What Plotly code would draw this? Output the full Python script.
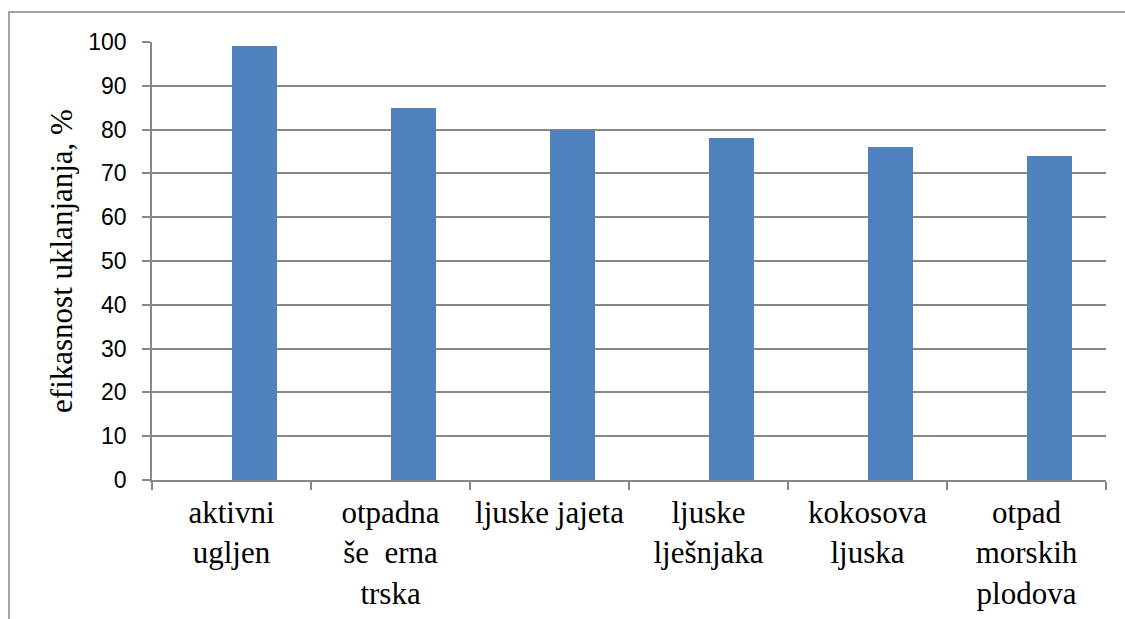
import plotly.graph_objects as go

categories = ["aktivni<br>ugljen", "otpadna<br>še  erna<br>trska", "ljuske jajeta",
              "ljuske<br>lješnjaka", "kokosova<br>ljuska", "otpad<br>morskih<br>plodova"]
values = [99, 85, 80, 78, 76, 74]
y_ticks = [0, 10, 20, 30, 40, 50, 60, 70, 80, 90, 100]
y_title = "efikasnost uklanjanja, %"

W, H = 1125, 619
ML, MR, MT, MB = 152, 19, 42, 139
pw, ph = W - ML - MR, H - MT - MB

GRID = "#878787"
SERIF = "Liberation Serif"
SANS = "Liberation Sans"

fig = go.Figure()
fig.add_trace(go.Bar(
    x=categories, y=values,
    width=0.286, offset=0,
    marker=dict(color="#4F81BD", line=dict(width=0)),
    showlegend=False,
))

def px_x(p):
    return (p - ML) / pw

def px_y(p):
    return (H - MB - p) / ph

fig.update_layout(
    width=W, height=H,
    margin=dict(l=ML, r=MR, t=MT, b=MB, autoexpand=False),
    paper_bgcolor="white", plot_bgcolor="white",
    font=dict(family=SERIF, color="black"),
    bargap=0,
    xaxis=dict(
        type="category",
        automargin=False,
        showgrid=False,
        showline=True, linecolor=GRID, linewidth=1.5,
        ticks="outside", tickson="boundaries", ticklen=8, tickcolor=GRID, tickwidth=1.5,
        tickfont=dict(family=SERIF, size=31, color="black"),
        ticklabelstandoff=4,
        tickangle=0,
    ),
    yaxis=dict(
        range=[0, 100],
        automargin=False,
        tickvals=y_ticks,
        showgrid=True, gridcolor=GRID, gridwidth=1.5,
        showline=True, linecolor=GRID, linewidth=1.5,
        ticks="outside", ticklen=8, tickcolor=GRID, tickwidth=1.5,
        tickfont=dict(family=SANS, size=23, color="black"),
        ticklabelstandoff=11,
        zeroline=False,
        title=dict(text=y_title, font=dict(family=SERIF, size=31, color="black"), standoff=6),
    ),
    shapes=[
        dict(type="rect", xref="paper", yref="paper",
             x0=px_x(9), y0=px_y(12), x1=px_x(W + 10), y1=px_y(H + 10),
             line=dict(color=GRID, width=1.5), fillcolor="rgba(0,0,0,0)", layer="above"),
    ],
)

post = (
    "document.body.style.margin='0';document.body.style.padding='0';"
    "var st=document.createElement('style');"
    "st.textContent=\".xtick text,.g-ytitle text{font-family:'Liberation Serif','Times New Roman',serif !important;}\";"
    "document.head.appendChild(st);"
)

fig.write_html(
    "out.html",
    config={"displayModeBar": False},
    post_script=post,
)
